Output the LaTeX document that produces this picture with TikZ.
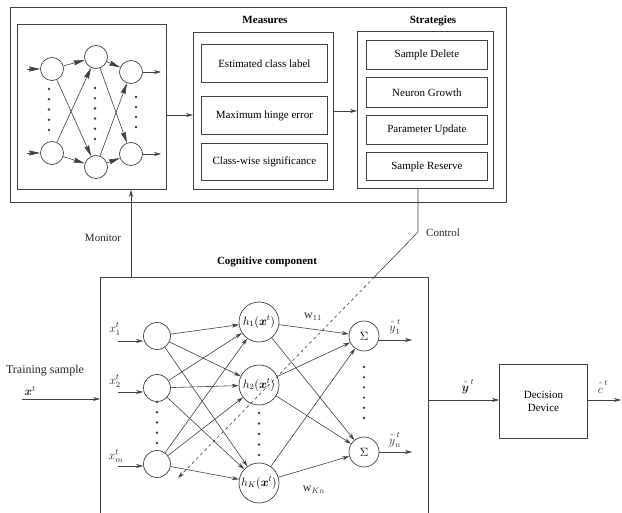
\documentclass[tikz,border=0pt]{standalone}
\usepackage{fontspec}
\setmainfont{Liberation Serif}
\usepackage{bm}
\usetikzlibrary{arrows.meta}
\definecolor{ln}{gray}{0.25}
\newcommand{\hatup}[1]{\hat{\vphantom{t}#1}}
\tikzset{
  box/.style={draw=ln, line width=0.9pt, inner sep=0pt, anchor=north west},
  sub/.style={draw=ln, line width=0.8pt, inner sep=0pt, anchor=north west, font=\fontsize{11}{12}\selectfont},
  neuron/.style={draw=ln, circle, line width=0.7pt, inner sep=0pt},
  arr/.style={draw=ln, line width=0.6pt, -{Stealth[length=7pt,width=4pt]}},
  warr/.style={draw=ln, line width=0.6pt, -{Stealth[length=11pt,width=5pt,inset=1pt]}},
  lbl/.style={inner sep=0pt, text=black!85, font=\fontsize{12}{13}\selectfont},
  ttl/.style={inner sep=0pt, font=\fontsize{11}{12}\selectfont\bfseries}
}
\begin{document}
\begin{tikzpicture}[x=1pt,y=-1pt]
\useasboundingbox (0,0) rectangle (622,513);
% top part
\node[box, minimum width=496pt, minimum height=195pt] (outer) at (10,7) {};
\node[box, minimum width=149pt, minimum height=165pt] (net) at (17,24) {};
\node[box, minimum width=140pt, minimum height=157pt] (meas) at (193,32) {};
\node[box, minimum width=136pt, minimum height=157pt] (strat) at (357,31) {};
\node[ttl] (measT) at (265,20) {Measures};
\node[ttl] (stratT) at (433,21) {Strategies};
\node[sub, minimum width=126pt, minimum height=38pt] (m1) at (201,44) {Estimated class label};
\node[sub, minimum width=126pt, minimum height=38pt] (m2) at (201,96) {Maximum hinge error};
\node[sub, minimum width=126pt, minimum height=37pt] (m3) at (201,143) {Class-wise significance};
\node[sub, minimum width=121pt, minimum height=29pt] (s1) at (366,40) {Sample Delete};
\node[sub, minimum width=121pt, minimum height=30pt] (s2) at (366,77) {Neuron Growth};
\node[sub, minimum width=121pt, minimum height=29pt] (s3) at (366,115) {Parameter Update};
\node[sub, minimum width=121pt, minimum height=28pt] (s4) at (366,152) {Sample Reserve};
\draw[arr] (net.east |- 0,115) -- (meas.west |- 0,115);
\draw[arr] (meas.east |- 0,111) -- (strat.west |- 0,111);
% small network
\node[neuron, minimum size=23pt] (a1) at (52,69) {};
\node[neuron, minimum size=23pt] (a2) at (52,153) {};
\node[neuron, minimum size=23pt] (b1) at (96,57) {};
\node[neuron, minimum size=23pt] (b2) at (96,167) {};
\node[neuron, minimum size=23pt] (c1) at (131,72) {};
\node[neuron, minimum size=23pt] (c2) at (131,154) {};
\coordinate (ai1) at (27,69);
\coordinate (ai2) at (27,153);
\coordinate (co1) at (161,72);
\coordinate (co2) at (161,154);
\draw[warr] (ai1) -- (a1);
\draw[warr] (ai2) -- (a2);
\foreach \s in {a1,a2}{\foreach \t in {b1,b2}{\draw[warr] (\s) -- (\t);}}
\foreach \s in {b1,b2}{\foreach \t in {c1,c2}{\draw[warr] (\s) -- (\t);}}
\draw[arr] (c1) -- (co1);
\draw[arr] (c2) -- (co2);
\foreach \y in {89,99.25,...,130}{\fill[ln] (49,\y) circle (1.4pt);}
\foreach \y in {88,98.2,...,140}{\fill[ln] (95,\y) circle (1.4pt);}
\foreach \y in {97,107,...,128}{\fill[ln] (136,\y) circle (1.4pt);}
% cognitive component
\node[box, minimum width=328pt, minimum height=260pt] (cog) at (100,277) {};
\node[ttl] (cogT) at (267,262) {Cognitive component};
\node[lbl, font=\fontsize{11}{12}\selectfont] (mon) at (103,238) {Monitor};
\node[lbl, font=\fontsize{11}{12}\selectfont] (ctl) at (443,233) {Control};
\coordinate (mb) at (131,277);
\draw[arr] (mb) -- (mb |- net.south);
\coordinate (k1) at (418,232);
\coordinate (k2) at (374.4,277);
\coordinate (k3) at (178,478);
\draw[draw=ln, line width=0.6pt] (strat.south -| k1) -- (k1) -- (k2);
\draw[arr, dashed] (k2) -- (k3);
% inputs
\node[neuron, minimum size=27pt] (i1) at (157,336) {};
\node[neuron, minimum size=27pt] (i2) at (157,388) {};
\node[neuron, minimum size=27pt] (i3) at (157,464) {};
\coordinate (ii1) at (118,341);
\coordinate (ii2) at (118,392);
\coordinate (ii3) at (118,466);
\draw[arr] (ii1) -- (i1.west |- ii1);
\draw[arr] (ii2) -- (i2.west |- ii2);
\draw[arr] (ii3) -- (i3.west |- ii3);
\node[lbl] (xl1) at (115,329) {$x^t_1$};
\node[lbl] (xl2) at (115,381) {$x^t_2$};
\node[lbl] (xl3) at (116,456) {$x^t_m$};
\foreach \y in {402,412.25,...,444}{\fill[ln] (157,\y) circle (1.3pt);}
% hidden
\node[neuron, minimum size=40pt, font=\fontsize{11.5}{12}\selectfont] (h1) at (259,322) {$h_1(\bm{x}^t)$};
\node[neuron, minimum size=40pt, font=\fontsize{11.5}{12}\selectfont] (h2) at (259,385) {$h_2(\bm{x}^t)$};
\node[neuron, minimum size=40pt, font=\fontsize{11.5}{12}\selectfont] (h3) at (259,483) {$h_K(\bm{x}^t)$};
\foreach \y in {413,423.5,...,456}{\fill[ln] (259,\y) circle (1.3pt);}
\foreach \s in {i1,i2,i3}{\foreach \t in {h1,h2,h3}{\draw[arr] (\s) -- (\t);}}
% outputs
\node[neuron, minimum size=30pt, font=\fontsize{13}{14}\selectfont] (o1) at (364,336) {$\Sigma$};
\node[neuron, minimum size=30pt, font=\fontsize{13}{14}\selectfont] (o2) at (364,452) {$\Sigma$};
\foreach \y in {367,377.2,...,419}{\fill[ln] (364,\y) circle (1.3pt);}
\foreach \s in {h1,h2,h3}{\foreach \t in {o1,o2}{\draw[arr] (\s) -- (\t);}}
\coordinate (oo1) at (412,340);
\coordinate (oo2) at (412,452);
\draw[arr] (o1.east |- oo1) -- (oo1);
\draw[arr] (o2) -- (oo2);
\node[lbl] (yl1) at (395,327) {$\hatup{y}^{\,t}_1$};
\node[lbl] (yl2) at (395,440) {$\hatup{y}^{\,t}_n$};
\node[lbl] (w1) at (313,317) {$\mathrm{w}_{11}$};
\node[lbl] (w2) at (314,490) {$\mathrm{w}_{Kn}$};
% training input
\node[lbl] (ts) at (45,371) {Training sample};
\node[lbl] (xt) at (30,391) {$\bm{x}^t$};
\coordinate (tin) at (22,399);
\draw[arr] (tin) -- (cog.west |- tin);
% decision device
\node[box, minimum width=88pt, minimum height=74pt, align=center, font=\fontsize{11}{13}\selectfont] (dec) at (499,364) {Decision\\Device};
\coordinate (dy) at (0,400);
\draw[arr] (cog.east |- dy) -- (dec.west |- dy);
\node[lbl] (yh) at (468,387) {$\hatup{\bm{y}}^{\,t}$};
\coordinate (cout) at (621,400);
\draw[arr] (dec.east |- cout) -- (cout);
\node[lbl] (ch) at (603,387) {$\hatup{c}^{\,t}$};
\end{tikzpicture}
\end{document}
